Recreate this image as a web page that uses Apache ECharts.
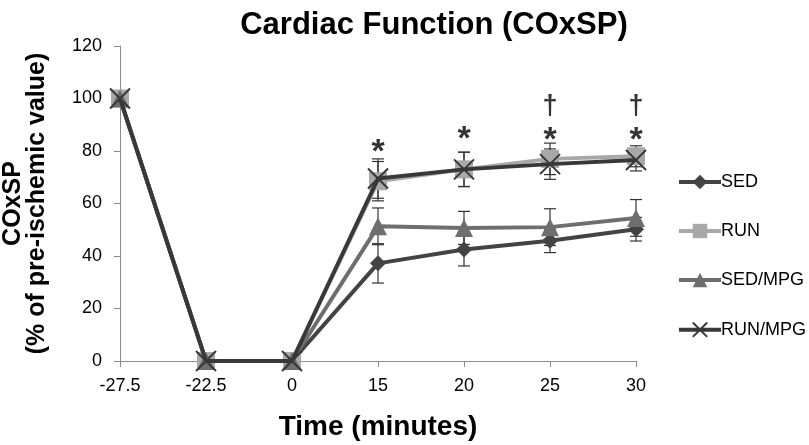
<!DOCTYPE html>
<html><head><meta charset="utf-8">
<script src="https://cdn.jsdelivr.net/npm/echarts@6/dist/echarts.min.js"></script>
<style>html,body{margin:0;padding:0;background:#fff}#c{width:809px;height:445px}</style>
</head><body><div id="c"></div>
<script>
const categories = ['-27.5','-22.5','0','15','20','25','30'];
const yTicks = [0,20,40,60,80,100,120];
const sed    = [100,0,0,37.2,42.5,45.8,50.2];
const run    = [100,0,0,68.5,73.0,77.0,78.0];
const sedMpg = [100,0,0,51.3,50.7,51.0,54.5];
const runMpg = [100,0,0,69.5,73.0,75.0,76.6];
const sedErr    = [0,0,0,7.5,6.3,4.5,4.5];
const runErr    = [0,0,0,7.5,6.5,6.0,4.0];
const sedMpgErr = [0,0,0,7.0,6.3,7.0,7.0];
const runMpgErr = [0,0,0,7.5,6.6,5.8,4.2];
const asteriskCats = ['15','20','25','30'];
const asteriskY    = [79.5,84.5,84,84];
const daggerCats   = ['25','30'];
const daggerY      = [97,97];

const font = 'Liberation Sans, Arial, sans-serif';
const chart = echarts.init(document.getElementById('c'));

function errSeries(vals, errs, color){
  const data = vals.map((v,i)=>[i,v,errs[i]]).filter(d=>d[2]>0);
  return {
    type:'custom', z:1, silent:true,
    renderItem(params, api){
      const x = api.value(0), v = api.value(1), e = api.value(2);
      const top = api.coord([x, v+e]), bot = api.coord([x, v-e]);
      const w = 6;
      const st = {stroke: color, lineWidth: 1.2};
      return {type:'group', children:[
        {type:'line', shape:{x1:top[0],y1:top[1],x2:bot[0],y2:bot[1]}, style:st},
        {type:'line', shape:{x1:top[0]-w,y1:top[1],x2:top[0]+w,y2:top[1]}, style:st},
        {type:'line', shape:{x1:bot[0]-w,y1:bot[1],x2:bot[0]+w,y2:bot[1]}, style:st}
      ]};
    },
    data
  };
}

const cols = {sed:'#434343', run:'#a8a8a8', sedMpg:'#6e6e6e', runMpg:'#383838'};

const option = {
  animation:false,
  title:{text:'Cardiac Function (COxSP)', left:429, top:5, textAlign:'center',
    textStyle:{fontFamily:font, fontSize:31, fontWeight:'bold', color:'#000'}},
  grid:{left:120, right:173, top:46, bottom:84, outerBoundsMode:'none', containLabel:false},
  legend:{orient:'vertical', left:672, top:168, itemGap:31, itemWidth:42, itemHeight:18,
    lineStyle:{width:4},
    textStyle:{fontFamily:font, fontSize:18, color:'#000', padding:[0,0,0,-5]},
    data:['SED','RUN','SED/MPG','RUN/MPG']},
  xAxis:{type:'category', data:categories, boundaryGap:false,
    name:'Time (minutes)', nameLocation:'middle', nameGap:52,
    nameTextStyle:{fontFamily:font, fontSize:28, fontWeight:'bold', color:'#000'},
    axisLine:{lineStyle:{color:'#8c8c8c'}},
    axisTick:{show:true, alignWithLabel:true, length:6, lineStyle:{color:'#8c8c8c'}},
    axisLabel:{fontFamily:font, fontSize:18, color:'#000', margin:16}},
  yAxis:{type:'value', min:0, max:120, interval:20,
    name:'COxSP\n(% of pre-ischemic value)', nameLocation:'middle', nameGap:71, nameRotate:90,
    nameTextStyle:{fontFamily:font, fontSize:25, fontWeight:'bold', color:'#000', lineHeight:24},
    axisLine:{show:true, lineStyle:{color:'#8c8c8c'}},
    axisTick:{show:true, length:6, lineStyle:{color:'#8c8c8c'}},
    splitLine:{show:false},
    axisLabel:{fontFamily:font, fontSize:18, color:'#000', margin:18,
      formatter:v=>yTicks.includes(v)?String(v):''}},
  series:[
    errSeries(sed, sedErr, '#333'),
    errSeries(run, runErr, '#333'),
    errSeries(sedMpg, sedMpgErr, '#333'),
    errSeries(runMpg, runMpgErr, '#333'),
    {name:'SED', type:'line', data:sed, z:2, symbol:'diamond', symbolSize:16,
      lineStyle:{color:cols.sed, width:4}, itemStyle:{color:cols.sed}},
    {name:'RUN', type:'line', data:run, z:3, symbol:'rect', symbolSize:18,
      lineStyle:{color:cols.run, width:4}, itemStyle:{color:cols.run}},
    {name:'SED/MPG', type:'line', data:sedMpg, z:4, symbol:'triangle', symbolSize:18,
      lineStyle:{color:cols.sedMpg, width:4}, itemStyle:{color:cols.sedMpg}},
    {name:'RUN/MPG', type:'line', data:runMpg, z:5, symbol:'path://M0,0L10,10M10,0L0,10', symbolSize:20,
      lineStyle:{color:cols.runMpg, width:4},
      itemStyle:{color:'none', borderColor:cols.runMpg, borderWidth:2}},
    {type:'scatter', z:6, silent:true, symbolSize:0,
      data:asteriskCats.map((c,i)=>[c, asteriskY[i]]),
      label:{show:true, position:'inside', formatter:'*', fontFamily:font, fontSize:34, fontWeight:'bold', color:'#000'}},
    {type:'scatter', z:6, silent:true, symbolSize:0,
      data:daggerCats.map((c,i)=>[c, daggerY[i]]),
      label:{show:true, position:'inside', formatter:'†', fontFamily:font, fontSize:27, fontWeight:'bold', color:'#000'}}
  ]
};
chart.setOption(option);
</script></body></html>
